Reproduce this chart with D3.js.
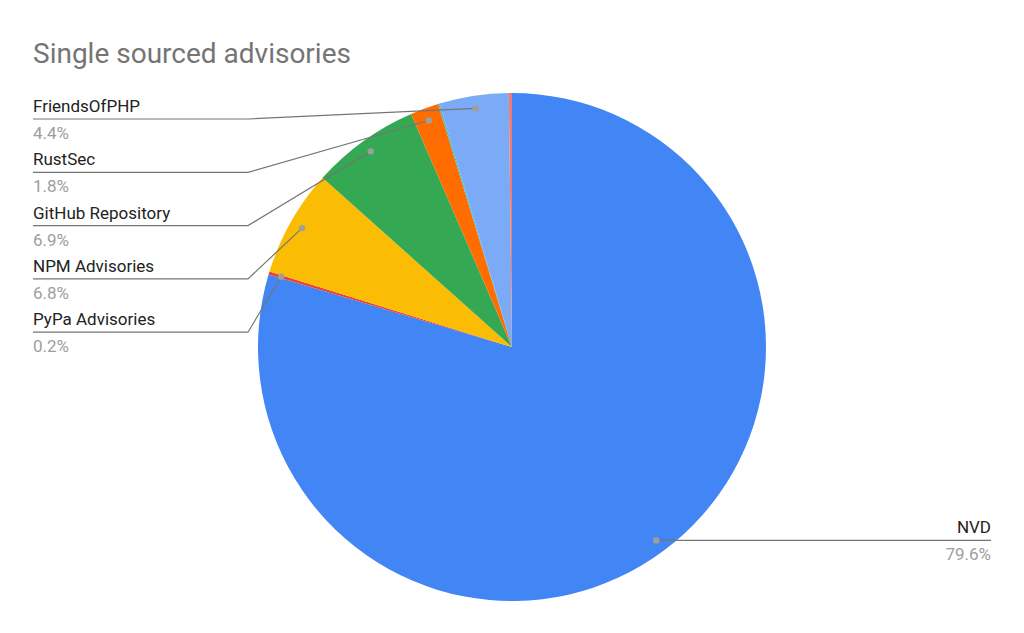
<!DOCTYPE html>
<html lang="en">
<head>
<meta charset="UTF-8">
<title>Single sourced advisories</title>
<script src="https://d3js.org/d3.v7.min.js"></script>
<style>
  body { margin: 0; background: #fff; font-family: Roboto, Arial, sans-serif; }
  .name { fill: #222; font-size: 17px; }
  .pct { fill: #9e9e9e; font-size: 17px; }
  .leader { stroke: #757575; stroke-width: 1.2px; fill: none; }
</style>
</head>
<body>
<svg width="1024" height="633"></svg>
<script>
// slices in clockwise order from 12 o'clock
var sources = ["NVD", "PyPa Advisories", "NPM Advisories", "GitHub Repository", "RustSec", "Other A", "FriendsOfPHP", "Other B"];
var shares = [79.6, 0.2, 6.8, 6.9, 1.8, 0.1, 4.4, 0.2];
var colors = ["#4285f4", "#ea4335", "#fbbc04", "#34a853", "#ff6d01", "#46bdc6", "#7baaf7", "#f07b72"];
var labelled = ["NVD", "PyPa Advisories", "NPM Advisories", "GitHub Repository", "RustSec", "FriendsOfPHP"];

var svg = d3.select("svg");
var cx = 512, cy = 347, r = 254;

svg.append("text")
    .attr("x", 33).attr("y", 63)
    .style("font-size", "28px").style("fill", "#757575")
    .text("Single sourced advisories");

var data = sources.map(function(s, i) { return {name: s, value: shares[i], color: colors[i]}; });
var arcs = d3.pie().sort(null).value(function(d) { return d.value; })(data);
var arc = d3.arc().innerRadius(0).outerRadius(r);

var g = svg.append("g").attr("transform", "translate(" + cx + "," + cy + ")");
g.selectAll("path").data(arcs).enter().append("path")
    .attr("d", arc)
    .attr("fill", function(d) { return d.data.color; });

// left-side label rows (top to bottom)
var leftOrder = ["FriendsOfPHP", "RustSec", "GitHub Repository", "NPM Advisories", "PyPa Advisories"];
function dotPos(a) {
  var m = (a.startAngle + a.endAngle) / 2;
  return [cx + Math.sin(m) * r * 0.95, cy - Math.cos(m) * r * 0.95];
}
var lab = svg.append("g");
arcs.forEach(function(a) {
  if (labelled.indexOf(a.data.name) < 0) return;
  var p = dotPos(a), lineY, x0, x1, tx, anchor;
  if (a.data.name === "NVD") {
    lineY = p[1]; x0 = p[0]; x1 = 991; tx = 991; anchor = "end";
    lab.append("path").attr("class", "leader")
      .attr("d", "M" + p[0] + "," + p[1] + "H" + x1);
  } else {
    var k = leftOrder.indexOf(a.data.name);
    lineY = 119 + k * 53.3; tx = 33; anchor = "start";
    lab.append("path").attr("class", "leader")
      .attr("d", "M" + p[0] + "," + p[1] + "L248," + lineY + "H33");
  }
  lab.append("circle").attr("cx", p[0]).attr("cy", p[1]).attr("r", 3.2).attr("fill", "#9e9e9e");
  lab.append("text").attr("class", "name").attr("x", tx).attr("y", lineY - 7)
    .attr("text-anchor", anchor).text(a.data.name);
  lab.append("text").attr("class", "pct").attr("x", tx).attr("y", lineY + 20)
    .attr("text-anchor", anchor).text(a.data.value.toFixed(1) + "%");
});
</script>
</body>
</html>
